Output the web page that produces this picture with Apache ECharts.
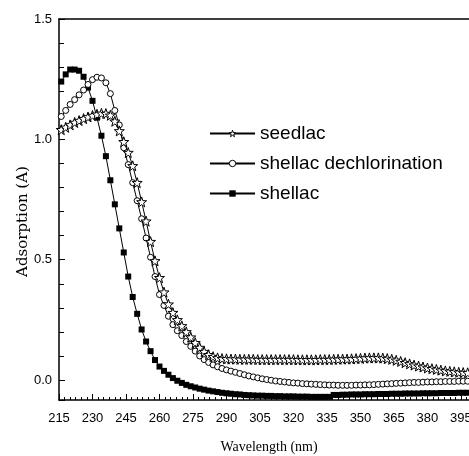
<!DOCTYPE html>
<html>
<head>
<meta charset="utf-8">
<script src="https://cdn.jsdelivr.net/npm/echarts@6/dist/echarts.min.js"></script>
<style>
  html, body { margin: 0; padding: 0; background: #fff; }
  #main { width: 469px; height: 456px; }
</style>
</head>
<body>
<div id="main"></div>
<script>
// wavelength (nm), one point every 2 nm
var wavelength = [
  216,218,220,222,224,226,228,230,232,234,
  236,238,240,242,244,246,248,250,252,254,
  256,258,260,262,264,266,268,270,272,274,
  276,278,280,282,284,286,288,290,292,294,
  296,298,300,302,304,306,308,310,312,314,
  316,318,320,322,324,326,328,330,332,334,
  336,338,340,342,344,346,348,350,352,354,
  356,358,360,362,364,366,368,370,372,374,
  376,378,380,382,384,386,388,390,392,394,
  396,398
];
var seedlac = [
  1.04,1.05,1.06,1.07,1.078,1.086,1.093,1.099,1.104,1.108,
  1.107,1.1,1.075,1.035,0.99,0.945,0.89,0.82,0.74,0.66,
  0.575,0.495,0.425,0.365,0.315,0.28,0.25,0.225,0.2,0.178,
  0.155,0.135,0.118,0.105,0.097,0.092,0.089,0.088,0.087,0.087,
  0.086,0.086,0.086,0.086,0.085,0.085,0.085,0.085,0.085,0.085,
  0.085,0.085,0.085,0.084,0.084,0.084,0.084,0.084,0.085,0.085,
  0.085,0.086,0.086,0.087,0.087,0.088,0.089,0.09,0.091,0.092,
  0.092,0.092,0.091,0.089,0.086,0.082,0.077,0.072,0.067,0.062,
  0.058,0.054,0.05,0.047,0.044,0.041,0.038,0.036,0.034,0.032,
  0.031,0.03
];
var dechlorinated = [
  1.095,1.12,1.145,1.165,1.185,1.205,1.228,1.248,1.258,1.255,
  1.235,1.19,1.12,1.06,0.965,0.895,0.82,0.745,0.67,0.59,
  0.51,0.43,0.355,0.31,0.265,0.23,0.205,0.185,0.16,0.14,
  0.12,0.1,0.085,0.073,0.063,0.055,0.048,0.042,0.037,0.032,
  0.027,0.022,0.017,0.013,0.009,0.005,0.002,-0.001,-0.004,-0.006,
  -0.008,-0.01,-0.012,-0.013,-0.015,-0.016,-0.017,-0.018,-0.019,-0.02,
  -0.021,-0.021,-0.022,-0.022,-0.022,-0.022,-0.021,-0.021,-0.02,-0.02,
  -0.019,-0.018,-0.017,-0.016,-0.015,-0.014,-0.013,-0.012,-0.011,-0.01,
  -0.01,-0.009,-0.008,-0.008,-0.007,-0.007,-0.006,-0.006,-0.006,-0.005,
  -0.005,-0.005
];
var shellac = [
  1.24,1.27,1.29,1.29,1.285,1.26,1.215,1.16,1.09,1.015,
  0.93,0.83,0.73,0.63,0.53,0.43,0.345,0.275,0.21,0.16,
  0.12,0.083,0.056,0.038,0.022,0.008,-0.003,-0.012,-0.02,-0.026,
  -0.031,-0.036,-0.04,-0.044,-0.047,-0.05,-0.053,-0.055,-0.057,-0.059,
  -0.06,-0.062,-0.063,-0.064,-0.065,-0.065,-0.066,-0.066,-0.067,-0.067,
  -0.068,-0.068,-0.068,-0.069,-0.069,-0.069,-0.07,-0.07,-0.07,-0.07,
  -0.07,-0.062,-0.062,-0.061,-0.061,-0.06,-0.06,-0.06,-0.059,-0.059,
  -0.059,-0.058,-0.058,-0.058,-0.057,-0.057,-0.057,-0.056,-0.056,-0.056,
  -0.056,-0.055,-0.055,-0.055,-0.055,-0.054,-0.054,-0.054,-0.054,-0.053,
  -0.053,-0.053
];

var starPath = 'path://M0,-10L2.35,-3.24L9.51,-3.09L3.8,1.24L5.88,8.09L0,4L-5.88,8.09L-3.8,1.24L-9.51,-3.09L-2.35,-3.24Z';

function pairs(ys) {
  return wavelength.map(function (x, i) { return [x, ys[i]]; });
}

var sansFont = "'Liberation Sans', Arial, sans-serif";
var openMark = { color: '#fff', borderColor: '#000', borderWidth: 1 };

var chart = echarts.init(document.getElementById('main'), null, { renderer: 'canvas' });
var option = {
  animation: false,
  backgroundColor: '#fff',
  grid: { left: 59, right: 0, top: 19, bottom: 56, outerBoundsMode: 'none', containLabel: false },
  legend: {
    orient: 'vertical',
    left: 209,
    top: 124,
    padding: 0,
    itemWidth: 45,
    itemHeight: 8,
    itemGap: 11,
    textStyle: { fontSize: 19, color: '#000', fontFamily: sansFont },
    data: [
      { name: 'seedlac', itemStyle: openMark },
      { name: 'shellac dechlorination', itemStyle: openMark },
      { name: 'shellac' }
    ]
  },
  xAxis: [{
    type: 'value',
    min: 215,
    max: 398.6,
    interval: 15,
    name: 'Wavelength (nm)',
    nameLocation: 'middle',
    nameGap: 40,
    nameTextStyle: { fontFamily: "'Liberation Serif', 'Times New Roman', serif", fontSize: 14, color: '#000', padding: [0, 0, 0, 10] },
    axisLine: { onZero: false, lineStyle: { color: '#000', width: 1.5 } },
    axisTick: { inside: true, length: 6, lineStyle: { color: '#000', width: 1 } },
    minorTick: { show: true, splitNumber: 6, length: 3, lineStyle: { color: '#000', width: 1 } },
    axisLabel: { margin: 12, color: '#000', fontSize: 13, fontFamily: sansFont, showMaxLabel: false },
    splitLine: { show: false }
  }, {
    type: 'value',
    position: 'top',
    min: 215,
    max: 398.6,
    axisLine: { onZero: false, lineStyle: { color: '#000', width: 1.5 } },
    axisTick: { show: false },
    axisLabel: { show: false },
    splitLine: { show: false }
  }],
  yAxis: {
    type: 'value',
    min: -0.083,
    max: 1.5,
    splitNumber: 3,
    name: 'Adsorption (A)',
    nameLocation: 'middle',
    nameGap: 28,
    nameMoveOverlap: false,
    nameTextStyle: { fontFamily: "'DejaVu Serif', serif", fontSize: 15, color: '#000', padding: [0, 24, 0, 0] },
    axisLine: { onZero: false, lineStyle: { color: '#000', width: 1.5 } },
    axisTick: { inside: true, length: 6, lineStyle: { color: '#000', width: 1 } },
    minorTick: { show: true, splitNumber: 5, length: 5, lineStyle: { color: '#000', width: 1 } },
    axisLabel: {
      margin: 7, color: '#000', fontSize: 13, fontFamily: sansFont, showMinLabel: false,
      formatter: function (v) { return v.toFixed(1); }
    },
    splitLine: { show: false }
  },
  series: [{
    name: 'seedlac',
    type: 'line',
    data: pairs(seedlac),
    symbol: starPath,
    symbolSize: 10,
    lineStyle: { color: '#000', width: 1 },
    itemStyle: openMark,
    z: 3
  }, {
    name: 'shellac dechlorination',
    type: 'line',
    data: pairs(dechlorinated),
    symbol: 'circle',
    symbolSize: 6,
    lineStyle: { color: '#000', width: 1 },
    itemStyle: openMark,
    z: 2
  }, {
    name: 'shellac',
    type: 'line',
    data: pairs(shellac),
    symbol: 'rect',
    symbolSize: 6,
    lineStyle: { color: '#000', width: 1 },
    itemStyle: { color: '#000', borderColor: '#000', borderWidth: 0 },
    z: 1
  }]
};
chart.setOption(option);
</script>
</body>
</html>
